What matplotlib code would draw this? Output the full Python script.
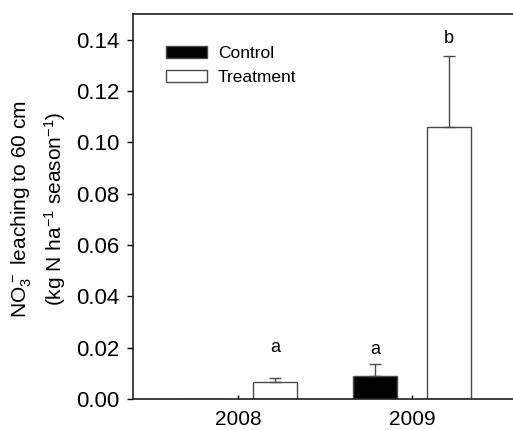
import matplotlib
matplotlib.use("Agg")
import matplotlib.pyplot as plt
import numpy as np

plt.rcParams['font.family'] = ['Liberation Sans', 'DejaVu Sans']
plt.rcParams['mathtext.fontset'] = 'custom'
plt.rcParams['mathtext.rm'] = 'Liberation Sans'
plt.rcParams['mathtext.it'] = 'Liberation Sans'

years = ['2008', '2009']
control = [0.0, 0.0089]
control_err = [0.0, 0.0046]
treatment = [0.0065, 0.1058]
treatment_err = [0.0016, 0.0277]
control_letters = ['', 'a']
treatment_letters = ['a', 'b']
control_letter_y = [0, 0.0192]
treatment_letter_y = [0.0199, 0.1404]

W, H = 513, 430
fig = plt.figure(figsize=(W / 100, H / 100), dpi=100)
ax = fig.add_axes([133 / W, 31 / H, (517 - 133) / W, (399 - 14) / H])

x = np.arange(len(years))
width = 0.253
off = 0.213
edge = '#4a4a4a'

ax.bar(x - off, control, width, color='black', edgecolor=edge, linewidth=1.0,
       label='Control', zorder=2)
ax.bar(x + off, treatment, width, color='white', edgecolor=edge, linewidth=1.0,
       label='Treatment', zorder=2)
ax.errorbar(x[1:] - off, control[1:], yerr=[[0], control_err[1:]], fmt='none',
            ecolor=edge, elinewidth=1.0, capsize=4, capthick=1.0, zorder=3)
ax.errorbar(x + off, treatment, yerr=[[0, 0], treatment_err], fmt='none',
            ecolor=edge, elinewidth=1.0, capsize=4, capthick=1.0, zorder=3)

for i in range(len(years)):
    if control_letters[i]:
        ax.text(x[i] - off, control_letter_y[i], control_letters[i],
                ha='center', va='center', fontsize=13)
    ax.text(x[i] + off, treatment_letter_y[i], treatment_letters[i],
            ha='center', va='center', fontsize=13)

ax.set_xlim(-0.603, 1.603)
ax.set_ylim(0, 0.15)
ax.set_yticks(np.arange(0, 0.141, 0.02))
ax.set_yticklabels(['%.2f' % v for v in np.arange(0, 0.141, 0.02)])
ax.set_xticks(x)
ax.set_xticklabels(years)
ax.tick_params(axis='y', direction='out', length=4, width=1.0, labelsize=16, pad=6)
ax.tick_params(axis='x', direction='in', length=3, width=1.0, labelsize=15, pad=8)
for s in ax.spines.values():
    s.set_linewidth(1.2)
    s.set_color('#202020')

leg = ax.legend(loc='upper left', bbox_to_anchor=(0.069, 0.935), frameon=False,
                fontsize=12.5, handlelength=2.35, handleheight=0.7,
                handletextpad=0.6, labelspacing=0.5, borderaxespad=0)

cy = 1 - 209 / H
fig.text(22 / W, cy, r'NO$_3^{\,-}$ leaching to 60 cm', rotation=90,
         ha='center', va='center', fontsize=15)
fig.text(55 / W, cy, r'(kg N ha$^{-1}$ season$^{-1}$)', rotation=90,
         ha='center', va='center', fontsize=15)

fig.savefig('out.png', dpi=100)
